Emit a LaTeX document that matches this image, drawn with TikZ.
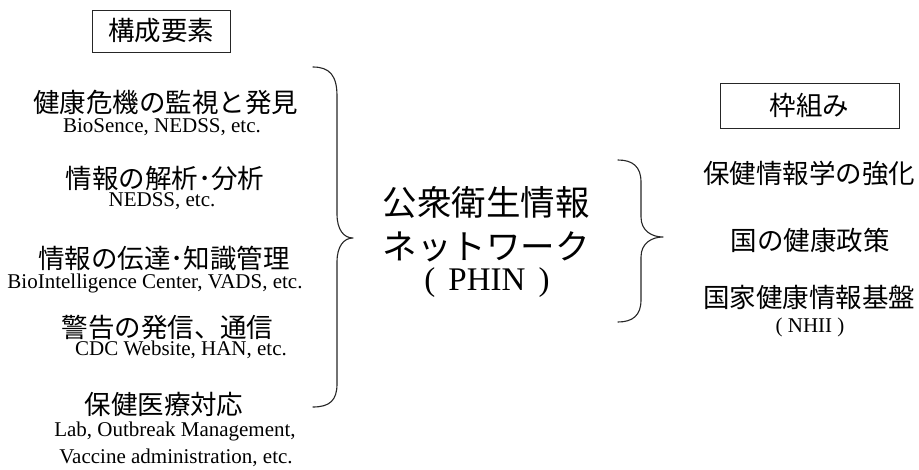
\documentclass[tikz,border=0pt]{standalone}
\usepackage{fontspec}
\setmainfont{Liberation Serif}
\newfontfamily\jp{Noto Sans CJK JP}
\tikzset{
  jpL/.style={font=\jp\fontsize{26.5}{30}\selectfont, inner sep=0pt},
  jpR/.style={font=\jp\fontsize{26.5}{30}\selectfont, inner sep=0pt},
  jpC/.style={font=\jp\fontsize{34.5}{40}\selectfont, inner sep=0pt},
  enL/.style={font=\fontsize{21}{24}\selectfont, inner sep=0pt},
  enC/.style={font=\fontsize{33}{38}\selectfont, inner sep=0pt},
  hdbox/.style={draw=black!85, line width=0.8pt, inner sep=0pt},
  brace/.style={draw=black!85, line width=1.1pt, line cap=round, line join=round}
}
\begin{document}
\begin{tikzpicture}[x=1pt,y=-1pt]
\useasboundingbox (0,0) rectangle (919,469);
% left header box
\node[hdbox, jpL, minimum width=138pt, minimum height=42pt] (hdl) at (161,31) {構成要素};
% left items
\node[jpL] (l1) at (166,102) {健康危機の監視と発見};
\node[enL] (l1e) at (162,127) {BioSence, NEDSS, etc.};
\node[jpL] (l2) at (165,178) {情報の解析･分析};
\node[enL] (l2e) at (162,201) {NEDSS, etc.};
\node[jpL] (l3) at (164,258) {情報の伝達･知識管理};
\node[enL] (l3e) at (155,283) {BioIntelligence Center, VADS, etc.};
\node[jpL] (l4) at (167.5,328) {警告の発信、通信};
\node[enL] (l4e) at (181,350) {CDC Website, HAN, etc.};
\node[jpL] (l5) at (164,404) {保健医療対応};
\node[enL] (l5e) at (175,431) {Lab, Outbreak Management,};
\node[enL] (l5f) at (176,458) {Vaccine administration, etc.};
% left brace
\coordinate (lbT) at (313,67);
\coordinate (lbM) at (353,238);
\coordinate (lbB) at (313,407);
\draw[brace] (lbT) .. controls (330,67) and (337,76) .. (337,96) -- (337,214)
  .. controls (337,230) and (344,238) .. (lbM)
  .. controls (344,238) and (337,246) .. (337,262) -- (337,384)
  .. controls (337,400) and (330,407) .. (lbB);
% center
\node[jpC] (c1) at (486,202) {公衆衛生情報};
\node[jpC] (c2) at (486,247) {ネットワーク};
\node[enC] (c3) at (487,283) {(\hspace{0.4em}PHIN\hspace{0.4em})};
% right brace
\coordinate (rbT) at (618,160);
\coordinate (rbM) at (663,237);
\coordinate (rbB) at (618,322);
\draw[brace] (rbT) .. controls (633,160) and (641,167) .. (641,182) -- (641,217)
  .. controls (641,231) and (652,237) .. (rbM)
  .. controls (652,237) and (641,243) .. (641,257) -- (641,300)
  .. controls (641,315) and (633,322) .. (rbB);
% right header box
\node[hdbox, jpR, minimum width=179pt, minimum height=45pt] (hdr) at (809.5,105.5) {枠組み};
\node[jpR] (r1) at (809,173) {保健情報学の強化};
\node[jpR] (r2) at (810,240) {国の健康政策};
\node[jpR] (r3) at (809,297) {国家健康情報基盤};
\node[enL] (r3e) at (810,327) {(\hspace{0.25em}NHII\hspace{0.25em})};
\end{tikzpicture}
\end{document}
